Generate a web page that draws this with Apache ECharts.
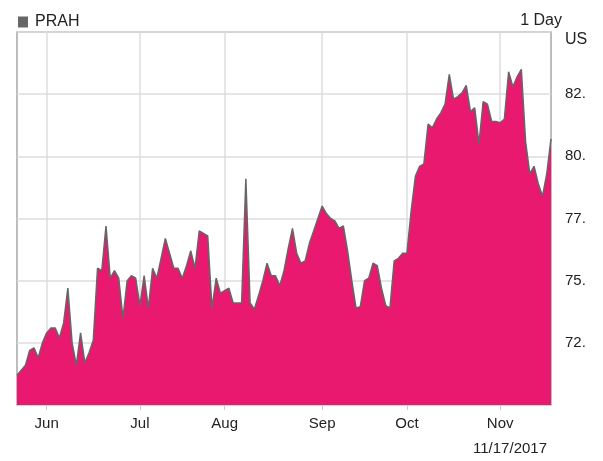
<!DOCTYPE html>
<html>
<head>
    <meta charset="utf-8">
    <title>PRAH</title>
    <script src="https://cdn.jsdelivr.net/npm/echarts@6/dist/echarts.min.js"></script>
    <style>
        html, body { margin: 0; padding: 0; background: #fff; }
    </style>
</head>
<body>
    <div id="main" style="width: 603px;height:461px;"></div>
    <script type="text/javascript">
        // trading days per month, 2017
        var monthNames = ['May', 'Jun', 'Jul', 'Aug', 'Sep', 'Oct', 'Nov'];
        var monthNums = ['05', '06', '07', '08', '09', '10', '11'];
        var mayDays = [22, 23, 24, 25, 26, 30, 31];
        var junDays = [1, 2, 5, 6, 7, 8, 9, 12, 13, 14, 15, 16, 19, 20, 21, 22, 23, 26, 27, 28, 29, 30];
        var julDays = [3, 5, 6, 7, 10, 11, 12, 13, 14, 17, 18, 19, 20, 21, 24, 25, 26, 27, 28, 31];
        var augDays = [1, 2, 3, 4, 7, 8, 9, 10, 11, 14, 15, 16, 17, 18, 21, 22, 23, 24, 25, 28, 29, 30, 31];
        var sepDays = [1, 5, 6, 7, 8, 11, 12, 13, 14, 15, 18, 19, 20, 21, 22, 25, 26, 27, 28, 29];
        var octDays = [2, 3, 4, 5, 6, 9, 10, 11, 12, 13, 16, 17, 18, 19, 20, 23, 24, 25, 26, 27, 30, 31];
        var novDays = [1, 2, 3, 6, 7, 8, 9, 10, 13, 14, 15, 16, 17];

        // closing prices (US$)
        var mayPrices = [71.2, 71.4, 71.6, 72.2, 72.3, 71.9, 72.5];
        var junPrices = [72.9, 73.1, 73.1, 72.7, 73.3, 74.7, 72.5, 71.6, 72.9, 71.7, 72.1,
                         72.6, 75.5, 75.4, 77.2, 75.1, 75.4, 75.1, 73.5, 75.0, 75.2, 75.1];
        var julPrices = [74.0, 75.2, 73.9, 75.5, 75.1, 75.9, 76.7, 76.1, 75.5, 75.5,
                         75.1, 75.6, 76.2, 75.5, 77.0, 76.9, 76.8, 73.9, 75.1, 74.5];
        var augPrices = [74.6, 74.7, 74.1, 74.1, 74.1, 79.1, 74.1, 73.85, 74.4, 75.0, 75.7, 75.2,
                         75.2, 74.8, 75.4, 76.3, 77.1, 76.1, 75.7, 75.8, 76.5, 77.0, 77.5];
        var sepPrices = [78.0, 77.7, 77.5, 77.4, 77.1, 77.2, 76.2, 75.0, 73.9, 73.95,
                         75.0, 75.1, 75.7, 75.6, 74.7, 74.0, 73.9, 75.8, 75.9, 76.1];
        var octPrices = [76.1, 77.8, 79.2, 79.6, 79.7, 81.3, 81.15, 81.5, 81.75, 82.1, 83.3,
                         82.3, 82.4, 82.55, 82.85, 81.8, 81.95, 80.5, 82.2, 82.1, 81.4, 81.4];
        var novPrices = [81.35, 81.5, 83.4, 82.8, 83.2, 83.5, 80.6, 79.3, 79.6, 78.9, 78.4, 79.3, 80.7];

        var yTicks = [72.5, 75, 77.5, 80, 82.5];

        var monthDays = [mayDays, junDays, julDays, augDays, sepDays, octDays, novDays];
        var monthPrices = [mayPrices, junPrices, julPrices, augPrices, sepPrices, octPrices, novPrices];

        var dates = [];
        var prices = [];
        var monthStart = {};
        for (var m = 0; m < monthDays.length; m++) {
            for (var d = 0; d < monthDays[m].length; d++) {
                var dd = monthDays[m][d];
                if (d == 0 && m > 0) {
                    monthStart[dates.length] = monthNames[m];
                }
                dates.push('2017-' + monthNums[m] + '-' + (dd < 10 ? '0' + dd : dd));
                prices.push(monthPrices[m][d]);
            }
        }

        function isMonthStart(index) {
            return monthStart[index] !== undefined;
        }

        var myChart = echarts.init(document.getElementById('main'));
        var txt = { fontFamily: 'Liberation Sans, Arial', fontSize: 15, color: '#222' };

        var option = {
            animation: false,
            legend: {
                left: 13,
                top: 9,
                icon: 'rect',
                itemWidth: 10,
                itemHeight: 11,
                itemGap: 6,
                itemStyle: { color: '#666' },
                textStyle: { fontFamily: txt.fontFamily, fontSize: 16, color: '#222', padding: [0, 0, 0, 2] },
                data: ['PRAH']
            },
            graphic: [
                { type: 'text', right: 41, top: 13, style: { text: '1 Day', font: '16px Liberation Sans, Arial', fill: '#222' } },
                { type: 'text', left: 565, top: 32, style: { text: 'US', font: '16px Liberation Sans, Arial', fill: '#222' } },
                { type: 'text', right: 56, top: 441, style: { text: '11/17/2017', font: '15px Liberation Sans, Arial', fill: '#222' } }
            ],
            grid: {
                left: 17,
                right: 52,
                top: 32,
                bottom: 56,
                show: true,
                borderColor: '#a8a8a8',
                borderWidth: 1.5,
                containLabel: false
            },
            xAxis: {
                type: 'category',
                data: dates,
                boundaryGap: false,
                axisLine: { show: false },
                axisTick: {
                    show: true,
                    interval: function (index) { return isMonthStart(index); },
                    length: 5,
                    lineStyle: { color: '#ccc', width: 1 }
                },
                axisLabel: {
                    interval: function (index) { return isMonthStart(index); },
                    formatter: function (value, index) { return monthStart[index] || ''; },
                    margin: 11,
                    fontFamily: txt.fontFamily,
                    fontSize: txt.fontSize,
                    color: txt.color
                },
                splitLine: {
                    show: true,
                    interval: function (index) { return isMonthStart(index); },
                    lineStyle: { color: '#dcdcdc', width: 1.5 }
                }
            },
            yAxis: {
                type: 'value',
                position: 'right',
                min: 70,
                max: 85,
                interval: 2.5,
                axisLine: { show: false },
                axisTick: { show: false },
                axisLabel: {
                    margin: 14,
                    fontFamily: txt.fontFamily,
                    fontSize: txt.fontSize,
                    color: txt.color,
                    formatter: function (v) {
                        return yTicks.indexOf(v) >= 0 ? Math.floor(v) + '.' : '';
                    }
                },
                splitLine: { lineStyle: { color: '#dcdcdc', width: 1.5 } }
            },
            series: [{
                name: 'PRAH',
                type: 'line',
                data: prices,
                symbol: 'none',
                color: '#666',
                lineStyle: { color: '#666', width: 1.5 },
                areaStyle: { color: '#e8196f', opacity: 1 },
                z: 3
            }]
        };
        myChart.setOption(option);
    </script>
</body>
</html>
